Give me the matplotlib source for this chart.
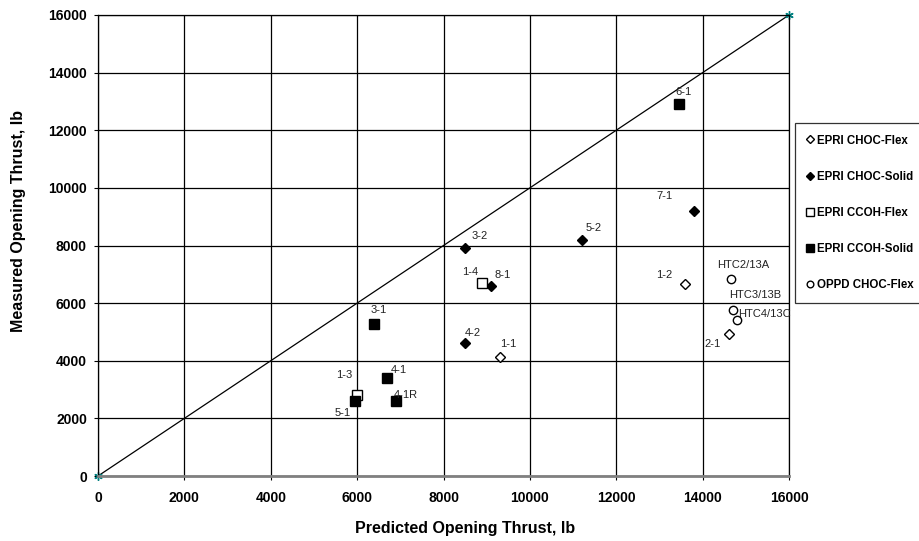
import matplotlib
matplotlib.use("Agg")
import matplotlib.pyplot as plt

plt.rcParams['font.family'] = ['Liberation Sans', 'DejaVu Sans']

# series data: predicted (x) vs measured (y) opening thrust, lb
choc_flex_x = [9300, 13600, 14600]
choc_flex_y = [4130, 6650, 4930]
choc_flex_lbl = ['1-1', '1-2', '2-1']

choc_solid_x = [8500, 9100, 8500, 11200, 13800]
choc_solid_y = [7900, 6600, 4600, 8200, 9200]
choc_solid_lbl = ['3-2', '8-1', '4-2', '5-2', '7-1']

ccoh_flex_x = [8900, 6000]
ccoh_flex_y = [6700, 2800]
ccoh_flex_lbl = ['1-4', '1-3']

ccoh_solid_x = [13450, 6400, 6700, 6900, 5950]
ccoh_solid_y = [12900, 5280, 3400, 2600, 2600]
ccoh_solid_lbl = ['6-1', '3-1', '4-1', '4-1R', '5-1']

oppd_x = [14650, 14700, 14800]
oppd_y = [6840, 5750, 5420]
oppd_lbl = ['HTC2/13A', 'HTC3/13B', 'HTC4/13C']

line_x = [0, 16000]
line_y = [0, 16000]

ticks = list(range(0, 16001, 2000))

# label placement (pixel offsets, alignment)
label_pos = {
    '1-1': (0, 10, 'left'), '1-2': (-13, 6, 'right'), '2-1': (-8, -13, 'right'),
    '3-2': (6, 9, 'left'), '8-1': (3, 8, 'left'), '4-2': (0, 7, 'left'),
    '5-2': (4, 9, 'left'), '7-1': (-21, 12, 'right'),
    '1-4': (-4, 8, 'right'), '1-3': (-5, 17, 'right'),
    '6-1': (-3, 9, 'left'), '3-1': (-4, 11, 'left'), '4-1': (3, 5, 'left'),
    '4-1R': (-2, 3, 'left'), '5-1': (-4, -15, 'right'),
    'HTC2/13A': (-14, 11, 'left'), 'HTC3/13B': (-4, 12, 'left'),
    'HTC4/13C': (1, 3, 'left'),
}

fig = plt.figure(figsize=(9.2, 5.41), dpi=100)
ax = fig.add_axes([98 / 920, 1 - 476 / 541, (789 - 98) / 920, (476 - 15) / 541])

ax.plot(line_x, line_y, color='black', lw=0.9, marker=(6, 2, 0), ms=6,
        mec='#008080', mew=1.0, zorder=2, clip_on=False)

series = [
    (choc_flex_x, choc_flex_y, choc_flex_lbl, 'D', 'white', 5, 'EPRI CHOC-Flex'),
    (choc_solid_x, choc_solid_y, choc_solid_lbl, 'D', 'black', 5, 'EPRI CHOC-Solid'),
    (ccoh_flex_x, ccoh_flex_y, ccoh_flex_lbl, 's', 'white', 6.5, 'EPRI CCOH-Flex'),
    (ccoh_solid_x, ccoh_solid_y, ccoh_solid_lbl, 's', 'black', 6.5, 'EPRI CCOH-Solid'),
    (oppd_x, oppd_y, oppd_lbl, 'o', 'white', 6, 'OPPD CHOC-Flex'),
]

for xs, ys, lbls, mk, fc, ms, name in series:
    ax.plot(xs, ys, ls='none', marker=mk, ms=ms, mfc=fc, mec='black',
            mew=1.0, label=name, zorder=4)
    for x, y, t in zip(xs, ys, lbls):
        dx, dy, ha = label_pos[t]
        ax.annotate(t, (x, y), xytext=(dx, dy), textcoords='offset pixels',
                    ha=ha, va='baseline', fontsize=8, color='#222222', zorder=5)

ax.set_xlim(0, 16000)
ax.set_ylim(0, 16000)
ax.set_xticks(ticks)
ax.set_yticks(ticks)
ax.grid(True, color='black', lw=0.9)
ax.set_axisbelow(True)
for s in ax.spines.values():
    s.set_color('black')
    s.set_linewidth(0.9)
ax.spines['bottom'].set_color('#808080')
ax.spines['bottom'].set_linewidth(2)
ax.tick_params(length=3, width=0.8, labelsize=10)
ax.tick_params(axis='x', pad=8)
ax.tick_params(axis='y', pad=5)
for lab in ax.get_xticklabels() + ax.get_yticklabels():
    lab.set_fontweight('bold')

ax.set_xlabel('Predicted Opening Thrust, lb', fontsize=11.5, fontweight='bold')
ax.set_ylabel('Measured Opening Thrust, lb', fontsize=11.5, fontweight='bold')
ax.xaxis.set_label_coords((465 - 98) / 691, (476 - 521) / 461)
ax.yaxis.set_label_coords((26 - 98) / 691, (476 - 221) / 461)

handles, names = ax.get_legend_handles_labels()
leg = fig.legend(handles, names, loc='upper left',
                 bbox_to_anchor=(795 / 920, 1 - 123 / 541),
                 frameon=True, fancybox=False, edgecolor='black',
                 prop={'weight': 'bold', 'size': 8.3}, markerscale=0.8,
                 handlelength=0.6, handletextpad=0.3, labelspacing=2.1,
                 borderpad=1.0, borderaxespad=0)
leg.get_frame().set_linewidth(0.9)

fig.savefig('out.png', dpi=100)
